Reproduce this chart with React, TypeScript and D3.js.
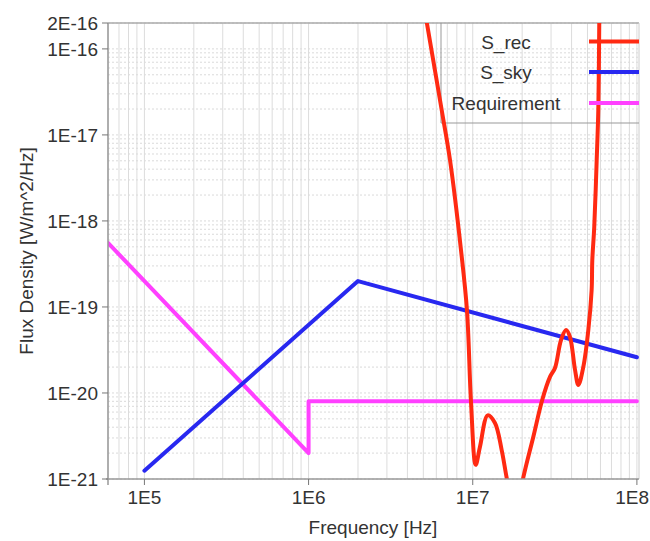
import React from "react";
import * as d3 from "d3";

const W = 650;
const H = 541;
const M = { left: 108, right: 11, top: 23, bottom: 62 };

const xDomain = [6.0e4, 1.03e8];
const yDomain = [1e-21, 2e-16];

const xTickValues = [1e5, 1e6, 1e7, 1e8];
const xTickLabels = ["1E5", "1E6", "1E7", "1E8"];
const yTickValues = [2e-16, 1e-16, 1e-17, 1e-18, 1e-19, 1e-20, 1e-21];
const yTickLabels = ["2E-16", "1E-16", "1E-17", "1E-18", "1E-19", "1E-20", "1E-21"];

const seriesNames = ["S_rec", "S_sky", "Requirement"];
const seriesColors = ["#ff2a12", "#2828f0", "#ff40ff"];

// S_rec
const recFreq = [
  5.05e6, 5.24e6, 6.47e6, 7.27e6, 8.48e6, 9.23e6, 9.76e6, 1.042e7, 1.107e7, 1.234e7,
  1.366e7, 1.501e7, 1.61e7, 1.81e7, 2.03e7, 2.34e7, 2.65e7, 2.96e7, 3.17e7, 3.45e7,
  3.7e7, 3.91e7, 4.2e7, 4.4e7, 4.72e7, 5.06e7, 5.3e7, 5.35e7, 5.5e7, 5.69e7,
  5.82e7, 5.9e7, 5.92e7,
];
const recVal = [
  3.2e-16, 2.07e-16, 1.95e-17, 5.1e-18, 4.6e-19, 8.97e-20, 7.85e-21, 1.46e-21, 2.37e-21, 5.5e-21,
  4.48e-21, 2.17e-21, 1.03e-21, 3.3e-22, 1.03e-21, 3.1e-21, 8.3e-21, 1.55e-20, 1.95e-20, 4.13e-20,
  5.4e-20, 4.5e-20, 1.85e-20, 1.24e-20, 2.02e-20, 5.4e-20, 1.57e-19, 3.5e-19, 8.6e-19, 5.1e-18,
  1.95e-17, 2.07e-16, 3.7e-16,
];

// S_sky
const skyFreq = [1e5, 2e6, 1e8];
const skyVal = [1.25e-21, 2.0e-19, 2.6e-20];

// Requirement
const reqFreq = [6.0e4, 1e6, 1e6, 1e8];
const reqVal = [5.56e-19, 2.0e-21, 8.0e-21, 8.0e-21];

const FONT = "'Liberation Sans', Arial, Helvetica, sans-serif";
const FS = 19;

export default function App() {
  const x = d3.scaleLog().domain(xDomain).range([M.left, W - M.right]);
  const y = d3.scaleLog().domain(yDomain).range([H - M.bottom, M.top]);
  const x0 = M.left, x1 = W - M.right, y0 = H - M.bottom, y1 = M.top;

  const gridX: number[] = [];
  const gridY: number[] = [];
  for (let e = 4; e <= 8; e++) {
    for (let k = 1; k <= 9; k++) {
      const v = k * Math.pow(10, e);
      if (v >= xDomain[0] && v <= xDomain[1]) gridX.push(v);
    }
  }
  for (let e = -21; e <= -16; e++) {
    for (let k = 1; k <= 9; k++) {
      const v = k * Math.pow(10, e);
      if (v >= yDomain[0] * 0.999 && v <= yDomain[1] * 1.001) gridY.push(v);
    }
  }

  const line = d3
    .line<[number, number]>()
    .x((d) => x(d[0]))
    .y((d) => y(d[1]));
  const smooth = d3
    .line<[number, number]>()
    .x((d) => x(d[0]))
    .y((d) => y(d[1]))
    .curve(d3.curveCatmullRom.alpha(0.5));

  const rec = recFreq.map((f, i) => [f, recVal[i]] as [number, number]);
  const sky = skyFreq.map((f, i) => [f, skyVal[i]] as [number, number]);
  const req = reqFreq.map((f, i) => [f, reqVal[i]] as [number, number]);

  const legendLeft = 441;
  const legendBottom = 123;
  const legendRows = [41.5, 72, 103];

  return (
    <svg
      width={W}
      height={H}
      style={{ position: "absolute", left: 0, top: 0, background: "#fff" }}
      fontFamily={FONT}
    >
      <defs>
        <clipPath id="plotclip">
          <rect x={x0} y={y1} width={x1 - x0} height={y0 - y1} />
        </clipPath>
      </defs>
      <g>
        {gridY.map((v, i) => (
          <line
            key={"gy" + i}
            x1={x0}
            x2={x1}
            y1={y(v)}
            y2={y(v)}
            stroke="#dadada"
            strokeWidth={1}
            strokeDasharray="2,2"
          />
        ))}
        {gridX.map((v, i) => (
          <line
            key={"gx" + i}
            x1={x(v)}
            x2={x(v)}
            y1={y1}
            y2={y0}
            stroke="#dcdcdc"
            strokeWidth={1}
          />
        ))}
      </g>
      <line x1={x0} x2={x1} y1={y1} y2={y1} stroke="#aaa" strokeWidth={1.5} />
      <line x1={x1} x2={x1} y1={y1} y2={y0} stroke="#ccc" strokeWidth={1} />
      <line x1={legendLeft} x2={legendLeft} y1={y1} y2={legendBottom} stroke="#999" strokeWidth={1} />
      <line x1={legendLeft} x2={x1} y1={legendBottom} y2={legendBottom} stroke="#999" strokeWidth={1} />
      <g clipPath="url(#plotclip)" fill="none" strokeLinejoin="round" strokeLinecap="round">
        <path d={line(req) || ""} stroke={seriesColors[2]} strokeWidth={4} />
        <path d={line(sky) || ""} stroke={seriesColors[1]} strokeWidth={4} />
        <path d={smooth(rec) || ""} stroke={seriesColors[0]} strokeWidth={4} />
      </g>
      {seriesNames.map((n, i) => (
        <g key={n}>
          <text
            x={506}
            y={legendRows[i] + 7}
            textAnchor="middle"
            fontSize={FS}
            fill="#333"
          >
            {n}
          </text>
          <line
            x1={589}
            x2={x1}
            y1={legendRows[i]}
            y2={legendRows[i]}
            stroke={seriesColors[i]}
            strokeWidth={4}
          />
        </g>
      ))}
      <line x1={x0} x2={x0} y1={y1} y2={y0 + 6} stroke="#999" strokeWidth={1.5} />
      <line x1={x0 - 2} x2={x1} y1={y0} y2={y0} stroke="#999" strokeWidth={1.5} />
      {yTickValues.map((v, i) => (
        <g key={"yt" + i}>
          <line x1={x0 - 6} x2={x0} y1={y(v)} y2={y(v)} stroke="#777" strokeWidth={1} />
          <text
            x={x0 - 10}
            y={y(v)}
            dy="0.35em"
            textAnchor="end"
            fontSize={FS}
            fill="#333"
          >
            {yTickLabels[i]}
          </text>
        </g>
      ))}
      {xTickValues.map((v, i) => {
        const last = i === xTickValues.length - 1;
        return (
          <g key={"xt" + i}>
            <line x1={x(v)} x2={x(v)} y1={y0} y2={y0 + 6} stroke="#777" strokeWidth={1} />
            <text
              x={last ? W - 1 : x(v)}
              y={y0 + 25}
              textAnchor={last ? "end" : "middle"}
              fontSize={FS}
              fill="#333"
            >
              {xTickLabels[i]}
            </text>
          </g>
        );
      })}
      <text x={373} y={534} textAnchor="middle" fontSize={FS} fill="#333">
        Frequency [Hz]
      </text>
      <text
        transform={`translate(33, 251) rotate(-90)`}
        textAnchor="middle"
        fontSize={FS}
        fill="#333"
      >
        Flux Density [W/m^2/Hz]
      </text>
    </svg>
  );
}
